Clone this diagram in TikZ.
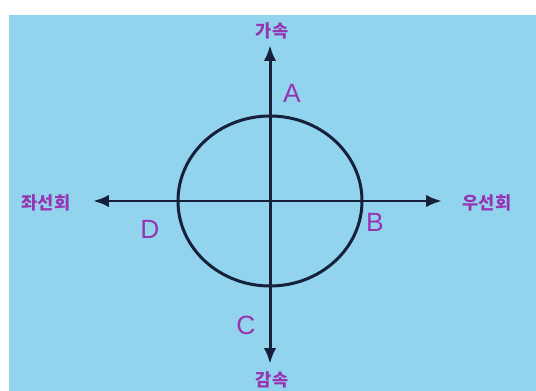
\documentclass[tikz,border=0pt]{standalone}
\usepackage{fontspec}
\setsansfont{Liberation Sans}
\newfontfamily\krfont{Noto Sans CJK KR}
\usetikzlibrary{arrows.meta, positioning}
\definecolor{skyblue}{RGB}{146,212,238}
\definecolor{labelpurple}{RGB}{150,52,178}
\definecolor{linenavy}{RGB}{22,32,58}

\begin{document}
\begin{tikzpicture}[x=0.02cm, y=-0.02cm, >={Latex[length=9pt, width=7pt]},
  axis/.style={draw=linenavy, line width=1.7pt},
  dirlabel/.style={text=labelpurple, font=\krfont\bfseries\normalsize, inner sep=1pt},
  pointlabel/.style={text=labelpurple, font=\sffamily\fontsize{15}{18}\selectfont, inner sep=1pt}]
  \useasboundingbox (0,0) rectangle (536,391);
  \fill[skyblue] (9,15) rectangle (536,391);
  \coordinate (o) at (270,201);
  \coordinate (top) at (270,45);
  \coordinate (bottom) at (270,364);
  \coordinate (left) at (93,201);
  \coordinate (right) at (442,201);
  \draw[axis] (o) ellipse [x radius=92, y radius=85];
  \draw[axis, ->] (o) -- (top);
  \draw[axis, ->] (o) -- (bottom);
  \draw[axis, ->] (o) -- (left);
  \draw[axis, ->] (o) -- (right);
  \node[dirlabel] (accel) at (272,31) {가속};
  \node[dirlabel] (decel) at (272,380) {감속};
  \node[dirlabel] (turnl) at (46,203) {좌선회};
  \node[dirlabel] (turnr) at (487,203) {우선회};
  \node[pointlabel] (pa) at (292,93) {A};
  \node[pointlabel] (pb) at (375,222) {B};
  \node[pointlabel] (pc) at (246,325) {C};
  \node[pointlabel] (pd) at (150,229) {D};
\end{tikzpicture}
\end{document}
